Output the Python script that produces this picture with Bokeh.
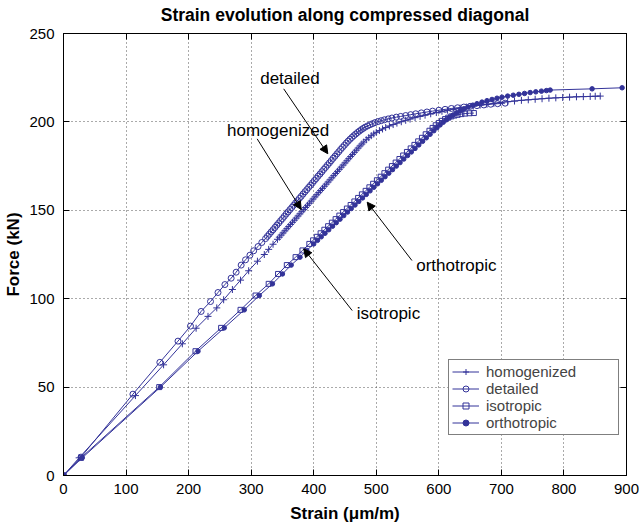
from bokeh.plotting import figure
from bokeh.models import (Range1d, LinearAxis, Arrow, NormalHead, Label, Legend,
                          LegendItem, FixedTicker)
from bokeh.embed import file_html
from bokeh.resources import INLINE

# ---------------- data ----------------
x_ticks = [0, 100, 200, 300, 400, 500, 600, 700, 800, 900]
y_ticks = [0, 50, 100, 150, 200, 250]
title_text = "Strain evolution along compressed diagonal"

homog_strain = [0, 25, 115, 160, 190, 212, 231, 245, 256, 270, 283, 296, 310, 321, 328, 335, 342,
                345, 348, 351, 354, 357, 360, 363, 366, 369, 372, 375, 378, 381, 384, 387, 390,
                393, 396, 399, 402, 405, 408, 411, 414, 417, 420, 423, 426, 429, 432, 435, 438,
                441, 444, 447, 450, 453, 456, 459, 462, 465, 468, 471, 474, 477, 480, 484, 488,
                492, 496, 500, 505, 510, 515, 521, 527, 533, 540, 547, 554, 562, 570, 578, 587,
                596, 605, 614, 624, 634, 644, 655, 666, 677, 688, 699, 710, 721, 732, 743, 754,
                765, 776, 787, 798, 809, 820, 831, 842, 850, 858]
homog_force = [0, 10, 45.2, 62.6, 74.5, 83.3, 90, 94.8, 99.4, 105.2, 110.5, 115.8, 121.2, 125,
               127.9, 130.8, 133.6, 134.8, 136.0, 137.2, 138.4, 139.6, 140.8, 142.0, 143.2, 144.4,
               145.6, 146.8, 148.0, 149.2, 150.4, 151.6, 152.8, 154.0, 155.2, 156.4, 157.6, 158.8,
               160.0, 161.2, 162.4, 163.6, 164.8, 166.0, 167.2, 168.4, 169.6, 170.8, 172.0, 173.2,
               174.4, 175.6, 176.8, 178.0, 179.2, 180.4, 181.6, 182.8, 184.0, 185.2, 186.4, 187.5,
               188.6, 189.9, 191.1, 192.2, 193.2, 194.1, 195.1, 196.0, 196.8, 197.7, 198.5, 199.3,
               200.1, 200.9, 201.6, 202.4, 203.1, 203.8, 204.6, 205.3, 206.0, 206.6, 207.2, 207.8,
               208.4, 208.9, 209.5, 210.0, 210.5, 211.0, 211.4, 211.8, 212.2, 212.5, 212.8, 213.1,
               213.4, 213.6, 213.8, 214.0, 214.2, 214.3, 214.4, 214.5, 214.6]

det_strain = [0, 28, 111, 154, 183, 203, 220, 235, 247, 258, 268, 276, 284, 291, 298, 304, 311,
              317, 323, 326, 329, 332, 335, 338, 341, 344, 347, 350, 353, 356, 359, 362, 365,
              368, 371, 374, 377, 380, 383, 386, 389, 392, 395, 398, 401, 404, 407, 410, 413,
              416, 419, 422, 425, 428, 431, 434, 437, 440, 443, 446, 449, 452, 455, 458, 461,
              464, 467, 470, 473, 476, 479, 482, 486, 490, 494, 498, 503, 508, 513, 519, 525,
              532, 539, 547, 555, 563, 572, 581, 590, 600, 610, 620, 630, 640, 650, 661, 672,
              683, 694, 706]
det_force = [0, 10.4, 46, 64, 76, 84.5, 92.8, 98.4, 103.5, 108, 111.6, 115, 119, 122, 124.6,
             127.1, 129.5, 131.8, 134.0, 135.3, 136.5, 137.8, 139.0, 140.3, 141.6, 142.8, 144.1,
             145.3, 146.6, 147.9, 149.1, 150.4, 151.6, 152.9, 154.2, 155.4, 156.7, 157.9, 159.2,
             160.5, 161.7, 163.0, 164.2, 165.5, 166.8, 168.0, 169.3, 170.5, 171.8, 173.1, 174.3,
             175.6, 176.8, 178.1, 179.4, 180.6, 181.9, 183.1, 184.4, 185.6, 186.8, 188.0, 189.1,
             190.2, 191.2, 192.2, 193.1, 194.0, 194.8, 195.6, 196.3, 197.0, 197.7, 198.4, 199.0,
             199.6, 200.2, 200.7, 201.2, 201.7, 202.2, 202.7, 203.1, 203.6, 204.1, 204.6, 205.1,
             205.6, 206.1, 206.6, 207.1, 207.6, 208.0, 208.4, 208.8, 209.2, 209.6, 210.0, 210.3,
             210.6]

iso_strain = [0, 28, 153, 211, 252, 283, 307, 328, 343, 357, 371, 382, 393, 399, 405, 411, 417,
              423, 429, 435, 441, 447, 453, 459, 465, 471, 477, 483, 489, 495, 501, 507, 513,
              519, 525, 531, 537, 543, 549, 555, 561, 567, 573, 579, 585, 590, 595, 600, 605,
              610, 615, 620, 625, 630, 636, 642, 649, 656]
iso_force = [0, 10, 50, 70.3, 83.5, 93.7, 101.8, 108.4, 114, 119, 123.5, 127.3, 131, 133, 135,
             137, 139, 141, 143, 145, 147, 149, 151, 153, 155, 157, 159, 161, 163, 165, 167, 169,
             171, 173, 175, 177, 179, 181, 183, 185, 187, 189, 191, 193, 195, 196.6, 198.1,
             199.4, 200.6, 201.6, 202.4, 203.1, 203.6, 204.0, 204.4, 204.7, 204.9, 205.0]

ortho_strain = [0, 30, 155, 215, 257, 289, 313, 334, 350, 364, 378, 389, 400, 406, 412, 418,
                424, 430, 436, 442, 448, 454, 460, 466, 472, 478, 484, 490, 496, 502, 508, 514,
                520, 526, 532, 538, 544, 550, 556, 562, 568, 574, 580, 586, 592, 597, 602, 607,
                612, 617, 622, 628, 634, 640, 647, 654, 661, 669, 677, 685, 693, 701, 710, 719,
                728, 737, 746, 755, 764, 772, 778, 845, 893]
ortho_force = [0, 10, 50, 70.3, 83.5, 93.7, 101.8, 108.4, 114, 119, 123.5, 127.3, 131, 133,
               135, 137, 139, 141, 143, 145, 147, 149, 151, 153, 155, 157, 159, 161, 163, 165,
               167, 169, 171, 173, 175, 177, 179, 181, 183, 185, 187, 189, 191, 193, 195, 196.7,
               198.3, 199.8, 201.2, 202.5, 203.7, 205.0, 206.2, 207.3, 208.4, 209.4, 210.3,
               211.2, 212.0, 212.7, 213.4, 214.0, 214.6, 215.1, 215.6, 216.1, 216.6, 217.0,
               217.4, 217.7, 218.0, 218.7, 219.3]

# annotations: (text, text_x, text_y, arrow_start_x, arrow_start_y, arrow_tip_x, arrow_tip_y)
notes = [
    ("detailed", 362, 224.5, 352, 218.7, 422.5, 182),
    ("homogenized", 343, 195.4, 309.6, 190.4, 380, 150.5),
    ("isotropic", 519.5, 91.9, 461.5, 93.3, 384, 128.2),
    ("orthotropic", 628, 118.8, 557, 121.6, 485.5, 154.6),
]

# ---------------- figure ----------------
FONT = "Liberation Sans"
COL = "#333399"

p = figure(width=639, height=525, output_backend="svg", toolbar_location=None,
           x_range=Range1d(0, 900), y_range=Range1d(0, 250),
           min_border_left=63, min_border_right=13, min_border_top=33, min_border_bottom=50)
p.background_fill_color = "white"
p.border_fill_color = "white"
p.outline_line_color = "black"
p.outline_line_width = 1

for ax in (p.xaxis[0], p.yaxis[0]):
    ax.axis_line_color = "black"
    ax.major_tick_in = 6
    ax.major_tick_out = 0
    ax.minor_tick_line_color = None
    ax.major_tick_line_color = "black"
    ax.major_label_text_font = FONT
    ax.major_label_text_font_size = "15px"
    ax.major_label_text_color = "black"
    ax.axis_label_text_font = FONT
    ax.axis_label_text_font_size = "17px"
    ax.axis_label_text_font_style = "bold"
    ax.axis_label_text_color = "black"

p.xaxis[0].ticker = FixedTicker(ticks=x_ticks)
p.yaxis[0].ticker = FixedTicker(ticks=y_ticks)
p.xaxis[0].axis_label = "Strain (\u03bcm/m)"
p.yaxis[0].axis_label = "Force (kN)"
p.xaxis[0].major_label_standoff = 8
p.yaxis[0].major_label_standoff = 9
p.xaxis[0].axis_label_standoff = 7
p.yaxis[0].axis_label_standoff = 3

# top axis: box ticks, and it carries the chart title as its label
top_ax = LinearAxis(ticker=FixedTicker(ticks=x_ticks), major_tick_in=6, major_tick_out=0,
                    minor_tick_line_color=None, major_label_text_font_size="1px",
                    major_label_text_color=None, major_label_standoff=0,
                    axis_line_color="black", axis_label=title_text,
                    axis_label_text_font=FONT, axis_label_text_font_size="17.5px",
                    axis_label_text_font_style="bold", axis_label_text_color="black",
                    axis_label_standoff=9)
right_ax = LinearAxis(ticker=FixedTicker(ticks=y_ticks), major_tick_in=6, major_tick_out=0,
                      minor_tick_line_color=None, major_label_text_font_size="1px",
                      major_label_text_color=None, major_label_standoff=0,
                      axis_line_color="black")
p.add_layout(top_ax, "above")
p.add_layout(right_ax, "right")

p.xgrid.ticker = FixedTicker(ticks=x_ticks)
p.ygrid.ticker = FixedTicker(ticks=y_ticks)
for g in (p.xgrid[0], p.ygrid[0]):
    g.grid_line_color = "#555555"
    g.grid_line_alpha = 1
    g.grid_line_dash = "1 3"
    g.grid_line_width = 1

# ---------------- series ----------------
l1 = p.line(homog_strain, homog_force, line_color=COL, line_width=1)
m1 = p.scatter(homog_strain, homog_force, marker="cross", size=7, line_color=COL, line_width=1)
l2 = p.line(det_strain, det_force, line_color=COL, line_width=1)
m2 = p.scatter(det_strain, det_force, marker="circle", size=6, line_color=COL,
               fill_color=None, line_width=1)
l3 = p.line(iso_strain, iso_force, line_color=COL, line_width=1)
m3 = p.scatter(iso_strain, iso_force, marker="square", size=5, line_color=COL,
               fill_color=None, line_width=1)
l4 = p.line(ortho_strain, ortho_force, line_color=COL, line_width=1)
m4 = p.scatter(ortho_strain, ortho_force, marker="circle", size=4.5, line_color=COL,
               fill_color=COL, line_width=1)

legend = Legend(items=[
    LegendItem(label="homogenized", renderers=[l1, m1]),
    LegendItem(label="detailed", renderers=[l2, m2]),
    LegendItem(label="isotropic", renderers=[l3, m3]),
    LegendItem(label="orthotropic", renderers=[l4, m4]),
], location=(385, 40))
legend.label_text_font = FONT
legend.label_text_font_size = "15px"
legend.label_height = 15
legend.glyph_height = 15
legend.glyph_width = 27
legend.label_standoff = 7
legend.label_width = 129
legend.padding = 3
legend.spacing = 0
legend.margin = 0
legend.border_line_color = "black"
legend.border_line_width = 1
legend.background_fill_alpha = 1
p.add_layout(legend, "center")

# ---------------- annotations ----------------
for txt, tx, ty, sx, sy, ex, ey in notes:
    p.add_layout(Arrow(end=NormalHead(size=8, fill_color="black", line_color="black"),
                       x_start=sx, y_start=sy, x_end=ex, y_end=ey,
                       line_color="black", line_width=1))
    p.add_layout(Label(x=tx, y=ty, text=txt, text_font=FONT, text_font_size="17px",
                       text_align="center", text_baseline="middle", text_color="black"))

open("out.html", "w").write(file_html(p, INLINE))
